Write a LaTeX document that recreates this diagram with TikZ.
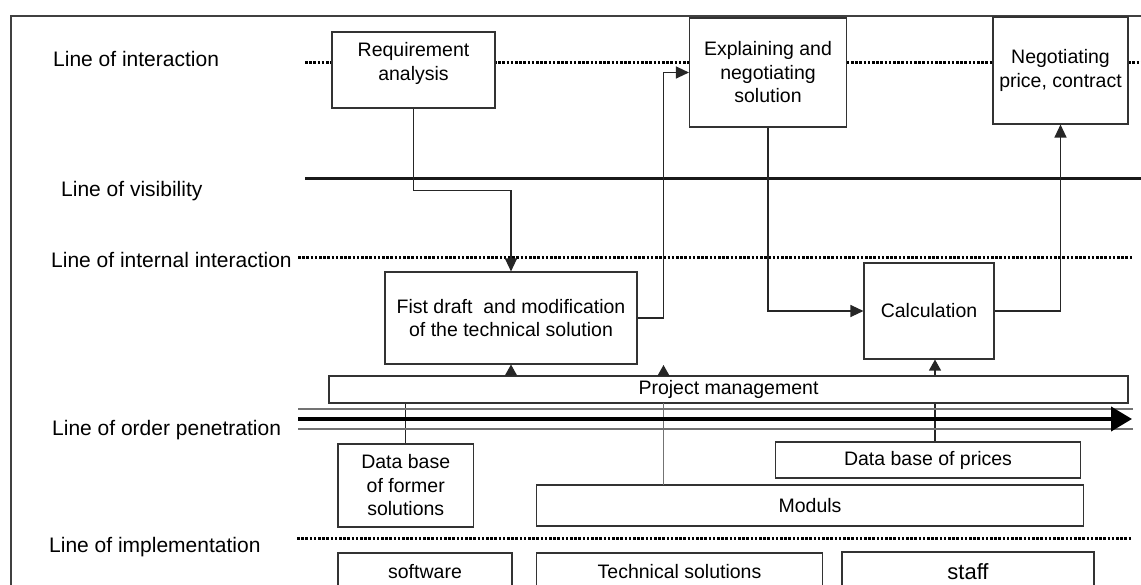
\documentclass[tikz,border=0pt]{standalone}
\usepackage{fontspec}
\setmainfont{Liberation Sans}
\usetikzlibrary{arrows.meta}
\newcommand\boxfont{\fontsize{19.5}{23.5}\selectfont}
\newcommand\lblfont{\fontsize{21}{25}\selectfont}
\begin{document}
\begin{tikzpicture}[x=1pt,y=-1pt,
  box/.style={draw=black!80, fill=white, line width=1.1pt, inner sep=0pt, align=center, font=\boxfont},
  lbl/.style={anchor=base west, inner sep=0pt, font=\lblfont},
  dotline/.style={line width=3pt, dash pattern=on 2.6pt off 1.6pt, black},
  conn/.style={line width=1.2pt, black!85, -{Triangle[length=13pt,width=12pt]}},
  shortarr/.style={line width=1.2pt, black!85, -{Triangle[length=11pt,width=12pt]}},
  link/.style={line width=1.2pt, black!85},
  thinline/.style={line width=1.1pt, black!55},
  ]
\useasboundingbox (0,0) rectangle (1141,585);
\clip (0,0) rectangle (1141,585);

% frame
\draw[line width=1.5pt, black!75] (11,600) -- (11,16) -- (1150,16);

% row labels
\node[lbl] (l1) at (53,67) {Line of interaction};
\node[lbl] (l2) at (61,197) {Line of visibility};
\node[lbl] (l3) at (51,268) {Line of internal interaction};
\node[lbl] (l4) at (52,435) {Line of order penetration};
\node[lbl] (l5) at (49,552) {Line of implementation};

% horizontal lines
\draw[dotline] (305,63) -- (1145,63);
\draw[line width=3pt, black!90] (305,179) -- (1145,179);
\draw[dotline] (298,258) -- (1133,258);
\draw[dotline] (297,538) -- (1132,538);

% boxes
\node[box, minimum width=163pt, minimum height=76pt] (req) at (413.5,70) {Requirement\\analysis\\[-6pt]\mbox{}};
\node[box, minimum width=157pt, minimum height=109pt] (expl) at (768,72.5) {Explaining and\\negotiating\\solution};
\node[box, minimum width=135pt, minimum height=107pt] (neg) at (1060.5,70.5) {Negotiating\\price, contract};
\node[box, minimum width=252pt, minimum height=92pt] (fist) at (511,318) {Fist draft\ \ and modification\\of the technical solution};
\node[box, minimum width=130pt, minimum height=96pt] (calc) at (929,311) {Calculation};
\node[box, minimum width=799pt, minimum height=27pt] (pm) at (728.5,389.5) {Project management};
\node[box, minimum width=135.5pt, minimum height=83pt] (dbf) at (405.75,485.5) {Data base\\of former\\solutions};
\node[box, minimum width=304.5pt, minimum height=36pt] (dbp) at (928,460) {Data base of prices};
\node[box, minimum width=546.5pt, minimum height=41pt] (mod) at (810,505.5) {Moduls};
\node[box, minimum width=174pt, minimum height=38pt] (sw) at (425,572) {software};
\node[box, minimum width=286pt, minimum height=38pt] (tech) at (679.5,572) {Technical solutions};
\node[box, minimum width=252pt, minimum height=39pt, font=\fontsize{22}{26}\selectfont] (staff) at (968,571.5) {staff};

% links below project management (drawn under the order line)
\draw[link] (pm.south -| dbf.north) -- (dbf.north);
\draw[thinline, line width=1.2pt] (663.5,403) -- (663.5,485);
\coordinate (dbpTop) at ([xshift=7pt]dbp.north);
\draw[link] (pm.south -| dbpTop) -- (dbpTop);

% line of order penetration
\coordinate (opStart) at (298,419);
\coordinate (opEnd) at (1132,419);
\draw[thinline] (298,409) -- (1133,409);
\draw[thinline] (298,429) -- (1133,429);
\draw[line width=4pt, black, -{Triangle[length=21pt,width=24pt]}] (opStart) -- (opEnd);

% connectors
\draw[conn] (req.south) -- ++(0,82) -| (fist.north);
\draw[conn] (fist.east) -- ++(26,0) |- (expl.west);
\draw[conn] (expl.south) |- (calc.west);
\draw[conn] (calc.east) -| (neg.south);

% short arrows from project management
\draw[shortarr] (pm.north -| fist.south) -- (fist.south);
\coordinate (pmUp) at (663.5,365);
\draw[shortarr] (pm.north -| pmUp) -- (pmUp);
\coordinate (calcIn) at ([xshift=6pt]calc.south);
\draw[shortarr] (pm.north -| calcIn) -- (calcIn);
\end{tikzpicture}
\end{document}
